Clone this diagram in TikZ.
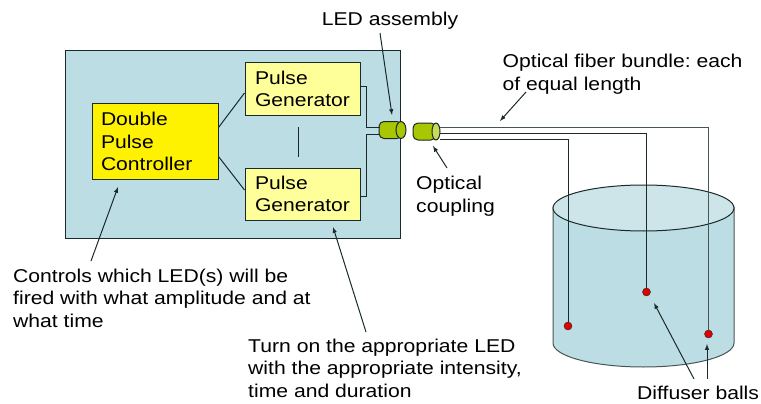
\documentclass[tikz,border=0pt]{standalone}
\usepackage{fontspec}
\setmainfont[FakeStretch=1.14]{Liberation Sans}
\usetikzlibrary{shapes.geometric}
\definecolor{boxblue}{HTML}{BDDDE4}
\definecolor{lidblue}{HTML}{CDE5E9}
\definecolor{ledgreen}{HTML}{A9C700}
\definecolor{palegen}{HTML}{FFFF99}
\definecolor{inkdark}{HTML}{1A2A2A}
\tikzset{
  label/.style={inner sep=0pt, anchor=north west, align=left, font=\fontsize{18.55}{22.8}\selectfont\frenchspacing},
  block/.style={draw=inkdark, line width=1pt, inner sep=0pt, align=left, font=\fontsize{18.5}{22.6}\selectfont},
  led/.style={draw=inkdark, line width=1pt, fill=ledgreen, rounded corners=5pt, inner sep=0pt, minimum height=17pt},
  ledcap/.style={draw=inkdark, line width=1pt, fill=ledgreen, ellipse, inner sep=0pt, minimum height=17pt},
  ball/.style={circle, draw=inkdark, fill=red!90!black, inner sep=0pt, minimum size=8pt},
  wire/.style={draw=inkdark, line width=1pt},
  pointer/.style={draw=inkdark, line width=1pt, -latex},
}
\begin{document}
\begin{tikzpicture}[x=1pt,y=-1pt]
\useasboundingbox (0,0) rectangle (761,404);
\node[block, fill=boxblue, minimum width=335pt, minimum height=187pt] (main) at (232.5,144.5){};
\node[block, fill=yellow, minimum width=126pt, minimum height=76pt, text width=108pt] (ctrl) at (155,141.5){Double\\Pulse\\Controller};
\node[block, fill=palegen, minimum width=115pt, minimum height=52pt, text width=95pt] (pgenA) at (302.5,89){Pulse\\Generator};
\node[block, fill=palegen, minimum width=115pt, minimum height=52pt, text width=95pt] (pgenB) at (302.5,194){Pulse\\Generator};
\draw[wire] ([yshift=14pt]ctrl.east) -- ([yshift=-4pt]pgenA.west);
\draw[wire] ([yshift=-15pt]ctrl.east) -- ([yshift=4pt]pgenB.west);
\coordinate (linkA) at (298,127);
\coordinate (linkB) at (298,157);
\draw[wire] (linkA) -- (linkB);
\node[led, minimum width=23pt] (ledA) at (390.5,130){};
\node[ledcap, minimum width=10pt] (capA) at (401,130){};
\node[led, minimum width=23pt] (ledB) at (424.5,131.5){};
\node[ledcap, minimum width=8pt, fill=ledgreen!65!white] (capB) at (436,131.5){};
\coordinate (ledInA) at (380,127);
\coordinate (ledInB) at (380,134);
\draw[wire] ([yshift=2.5pt]pgenA.east) -- ++(6,0) |- (ledInA);
\draw[wire] ([yshift=-2.5pt]pgenB.east) -- ++(6,0) |- (ledInB);
\fill[boxblue] (553,207) -- (553,343) arc (180:0:90.5 and 24) -- (734,207) -- cycle;
\draw[wire, draw=inkdark!80] (553,207) -- (553,343) arc (180:0:90.5 and 24) -- (734,207);
\draw[wire, draw=inkdark, fill=lidblue] (643.5,208) ellipse (90.5 and 23);
\node[ball] (ballA) at (568,326){};
\node[ball] (ballB) at (646.5,292){};
\node[ball] (ballC) at (708.5,334){};
\coordinate (fibA) at (440,139);
\coordinate (fibB) at (440,133);
\coordinate (fibC) at (440,127);
\draw[wire] (fibA) -| (ballA.north);
\draw[wire] (fibB) -| (ballB.north);
\draw[wire, draw=inkdark!80] (fibC) -| (ballC.north);
\node[label, anchor=north] (ledLab) at (390,11.4){LED assembly};
\node[label] (fibLab) at (502.5,54.2){Optical fiber bundle: each\\of equal length};
\node[label] (coupLab) at (416,175.7){Optical\\coupling};
\node[label] (ctrlLab) at (13,268.4){Controls which LED(s) will be\\fired with what amplitude and at\\what time};
\node[label] (turnLab) at (248,338.4){Turn on the appropriate LED\\with the appropriate intensity,\\time and duration};
\node[label] (diffLab) at (637,386){Diffuser balls};
\coordinate (ledTail) at (380,33);
\coordinate (ledHead) at (392,115);
\draw[pointer] (ledTail) -- (ledHead);
\coordinate (fibTail) at (526,92);
\coordinate (fibHead) at (500,121);
\draw[pointer] (fibTail) -- (fibHead);
\coordinate (coupTail) at (447,168);
\coordinate (coupHead) at (433,146);
\draw[pointer] (coupTail) -- (coupHead);
\coordinate (ctrlTail) at (91,261);
\coordinate (ctrlHead) at (118,187);
\draw[pointer] (ctrlTail) -- (ctrlHead);
\coordinate (turnTail) at (366,332);
\coordinate (turnHead) at (333,227);
\draw[pointer] (turnTail) -- (turnHead);
\coordinate (diffTailA) at (694,379);
\coordinate (diffHeadA) at (654,303);
\draw[pointer] (diffTailA) -- (diffHeadA);
\coordinate (diffTailB) at (707,379);
\coordinate (diffHeadB) at (707,344);
\draw[pointer] (diffTailB) -- (diffHeadB);
\end{tikzpicture}
\end{document}
